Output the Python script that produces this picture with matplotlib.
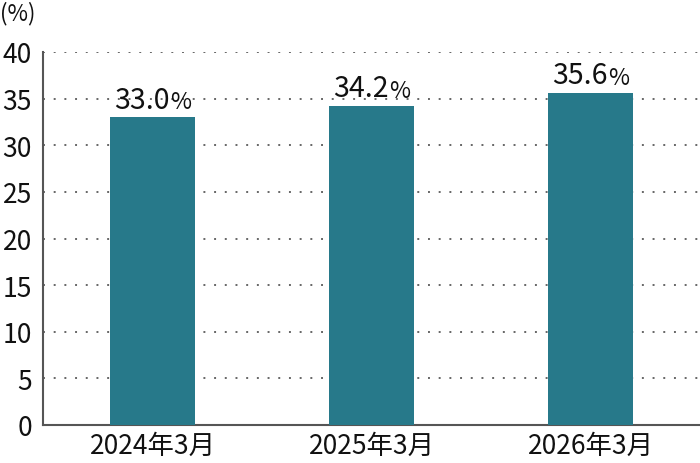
import matplotlib.pyplot as plt

plt.rcParams['font.family'] = ['Noto Sans CJK JP', 'DejaVu Sans']

# Data
labels = ["2024年3月", "2025年3月", "2026年3月"]
values = [33.0, 34.2, 35.6]
yticks = [0, 5, 10, 15, 20, 25, 30, 35, 40]

fig = plt.figure(figsize=(7, 4.64), dpi=100)
ax = fig.add_axes([43 / 700, 38 / 464, 657 / 700, 373 / 464])

x = range(len(labels))
ax.bar(x, values, width=0.384, color="#27798a", zorder=3)

ax.set_xlim(-0.5, 2.5)
ax.set_ylim(0, 40)
ax.set_yticks(yticks)
ax.set_xticks(list(x))
ax.set_xticklabels(labels)
ax.tick_params(axis="both", length=0, labelsize=19, colors="#111111")
ax.tick_params(axis="y", pad=8)
ax.tick_params(axis="x", pad=5)

# dotted gridlines
for t in yticks[1:]:
    ax.axhline(t, color="#666666", linestyle=(0, (1, 4.5)), linewidth=1.4, zorder=1)

for s in ["top", "right"]:
    ax.spines[s].set_visible(False)
ax.spines["left"].set_color("#555555")
ax.spines["bottom"].set_color("#555555")
ax.spines["left"].set_linewidth(1.5)
ax.spines["bottom"].set_linewidth(1.5)

# value labels, smaller % sign
for i, v in enumerate(values):
    t = ax.annotate(f"{v:.1f}", xy=(i, v), xytext=(-8, 7), textcoords="offset points",
                    ha="center", va="baseline", fontsize=20.5, color="#111111")
    ax.annotate("%", xy=(1, 0), xycoords=t, xytext=(1, 1), textcoords="offset points",
                ha="left", va="bottom", fontsize=16.5, color="#111111")

fig.text(0, 1 - 2 / 464, "(%)", ha="left", va="top", fontsize=16, color="#111111")

plt.savefig("out.png")
